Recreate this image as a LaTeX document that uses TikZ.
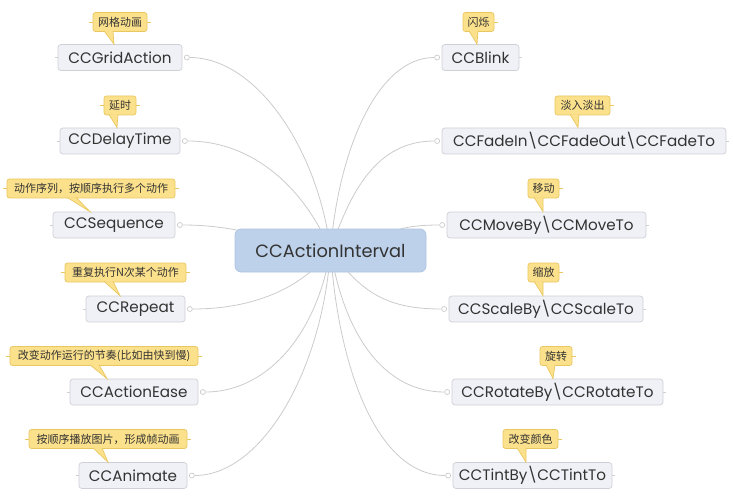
\documentclass[tikz,border=0pt]{standalone}
\usepackage{fontspec}
\setmainfont{Poppins}
\newfontfamily\cjk{Noto Sans CJK SC}
\usetikzlibrary{backgrounds,calc}
\definecolor{nodefill}{HTML}{F0F1F6}
\definecolor{nodeborder}{HTML}{CFD0D6}
\definecolor{calfill}{HTML}{FCE18C}
\definecolor{calborder}{HTML}{E9C760}
\definecolor{cifill}{HTML}{BDD1EA}
\definecolor{ciborder}{HTML}{AFC4E2}
\definecolor{conncol}{HTML}{CBCBCB}
\definecolor{txt}{HTML}{333333}
\tikzset{
  topic/.style={rectangle, rounded corners=3pt, fill=nodefill, draw=nodeborder, line width=0.7pt,
    minimum height=26pt, inner sep=0pt, font=\fontsize{15.2}{17}\selectfont, text=txt},
  central/.style={rectangle, rounded corners=6pt, fill=cifill, draw=ciborder, line width=0.7pt,
    minimum height=43pt, inner sep=0pt, font=\fontsize{17.8}{20}\selectfont, text=txt},
  callout/.style={rectangle, rounded corners=2.5pt, fill=calfill, draw=calborder, line width=0.7pt,
    minimum height=19pt, inner sep=0pt, font=\cjk\fontsize{11}{12}\selectfont, text=txt},
  dotc/.style={circle, fill=white, draw=conncol, line width=0.7pt, minimum size=5pt, inner sep=0pt},
  conn/.style={draw=conncol, line width=0.8pt},
  ystub/.style={draw=calborder, line width=0.8pt},
  gstub/.style={draw=nodeborder, line width=0.8pt},
}
\newcommand{\pointer}[4]{% callout name, base x, tip node, tip x
  \path let \p1=(#1.south), \p2=(#3.north) in
    coordinate (pa) at (#2,\y1+1pt) coordinate (pb) at (#2+9,\y1+1pt) coordinate (pt) at (#4,\y2);
  \fill[calfill] (pa) -- (pt) -- (pb) -- cycle;
  \draw[calborder, line width=0.7pt] (pa) -- (pt) -- (pb);
}
\begin{document}
\begin{tikzpicture}[x=1pt,y=-1pt]
\useasboundingbox (0,0) rectangle (733,497);
% central
\node[central, minimum width=191pt] (ci) at (330.5,250.5) {CCActionInterval};
% left topics
\node[topic, minimum width=124pt] (ga) at (120,57.5) {CCGridAction};
\node[topic, minimum width=120pt] (dt) at (120,141) {CCDelayTime};
\node[topic, minimum width=122pt] (sq) at (114,225) {CCSequence};
\node[topic, minimum width=99pt] (rp) at (135.5,309) {CCRepeat};
\node[topic, minimum width=128pt] (ae) at (134,392) {CCActionEase};
\node[topic, minimum width=108pt] (an) at (133,475.5) {CCAnimate};
% right topics
\node[topic, minimum width=77pt] (bl) at (480.5,57.5) {CCBlink};
\node[topic, minimum width=284pt] (fd) at (584,141) {CCFadeIn\textbackslash CCFadeOut\textbackslash CCFadeTo};
\node[topic, minimum width=199pt] (mv) at (546.5,225) {CCMoveBy\textbackslash CCMoveTo};
\node[topic, minimum width=194pt] (sc) at (546,309) {CCScaleBy\textbackslash CCScaleTo};
\node[topic, minimum width=211pt] (rt) at (557.5,392) {CCRotateBy\textbackslash CCRotateTo};
\node[topic, minimum width=159pt] (tn) at (532.5,475.5) {CCTintBy\textbackslash CCTintTo};
% dots
\foreach \n in {ga,dt,sq,rp,ae,an}{
  \node[dotc] (c\n) at ($(\n.east)+(4.5,0)$) {};
  \draw[gstub] ($(\n.west)+(-3,0)$) -- (\n.west);
}
\foreach \n in {bl,fd,mv,sc,rt,tn}{
  \node[dotc] (c\n) at ($(\n.west)+(-4.5,0)$) {};
  \draw[gstub] (\n.east) -- ($(\n.east)+(3,0)$);
}
% connectors
\begin{scope}[on background layer]
\draw[conn] (cga) .. controls +(70,0) and +(-12,-100) .. (ci.center);
\draw[conn] (cdt) .. controls +(70,0) and +(-25,-60) .. (ci.center);
\draw[conn] (csq) .. controls +(60,0) and +(-60,-10) .. (ci.center);
\draw[conn] (crp) .. controls +(60,0) and +(-30,40) .. (ci.center);
\draw[conn] (cae) .. controls +(60,0) and +(-15,90) .. (ci.center);
\draw[conn] (can) .. controls +(70,0) and +(-8,120) .. (ci.center);
\draw[conn] (cbl) .. controls +(-60,0) and +(8,-100) .. (ci.center);
\draw[conn] (cfd) .. controls +(-60,0) and +(20,-60) .. (ci.center);
\draw[conn] (cmv) .. controls +(-60,0) and +(60,-10) .. (ci.center);
\draw[conn] (csc) .. controls +(-60,0) and +(30,40) .. (ci.center);
\draw[conn] (crt) .. controls +(-60,0) and +(15,90) .. (ci.center);
\draw[conn] (ctn) .. controls +(-70,0) and +(8,120) .. (ci.center);
\end{scope}
% callouts left
\node[callout, minimum width=54pt] (k1) at (120,22) {网格动画};
\node[callout, minimum width=32pt] (k2) at (120,105.5) {延时};
\node[callout, minimum width=168pt] (k3) at (91,188.5) {动作序列，按顺序执行多个动作};
\node[callout, minimum width=121pt] (k4) at (125.5,272.5) {重复执行N次某个动作};
\node[callout, minimum width=188pt] (k5) at (104,356) {改变动作运行的节奏(比如由快到慢)};
\node[callout, minimum width=158pt] (k6) at (108,439) {按顺序播放图片，形成帧动画};
% callouts right
\node[callout, minimum width=31pt] (r1) at (478.5,22) {闪烁};
\node[callout, minimum width=55pt] (r2) at (582.5,105.5) {淡入淡出};
\node[callout, minimum width=31pt] (r3) at (543.5,188.5) {移动};
\node[callout, minimum width=31pt] (r4) at (543.5,272.5) {缩放};
\node[callout, minimum width=32pt] (r5) at (556,356) {旋转};
\node[callout, minimum width=55pt] (r6) at (530.5,439) {改变颜色};
% stubs on callouts
\foreach \n in {k1,k2,k3,k4,k5,k6}{
  \draw[ystub] ($(\n.west)+(-4,0)$) -- (\n.west);
  \draw[ystub] (\n.east) -- ($(\n.east)+(4,0)$);
}
\foreach \n in {r1,r2,r3,r4,r5,r6}{
  \draw[ystub] (\n.east) -- ($(\n.east)+(4,0)$);
}
% pointers
\pointer{k1}{104}{ga}{114}
\pointer{k2}{109}{dt}{117}
\pointer{k3}{67}{sq}{90}
\pointer{k4}{104}{rp}{120}
\pointer{k5}{90}{ae}{107}
\pointer{k6}{93}{an}{108}
\pointer{r1}{469}{bl}{477}
\pointer{r2}{570}{fd}{578}
\pointer{r3}{534}{mv}{543}
\pointer{r4}{534}{sc}{543}
\pointer{r5}{546}{rt}{553}
\pointer{r6}{517}{tn}{526}
\end{tikzpicture}
\end{document}
